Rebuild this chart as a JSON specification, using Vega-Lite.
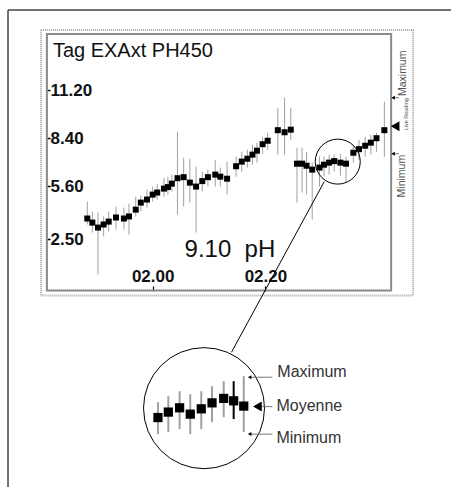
{
  "$schema": "https://vega.github.io/schema/vega-lite/v6.json",
  "width": 452,
  "height": 488,
  "autosize": {"type": "fit", "contains": "padding"},
  "padding": 0,
  "background": "white",
  "config": {"view": {"stroke": null}, "text": {"font": "Liberation Sans"}, "axis": {"labelFont": "Liberation Sans"}},
  "datasets": {
    "series": [
      {"t":108.4,"v":3.70,"lo":3.35,"hi":4.69},
      {"t":109.3,"v":3.46,"lo":2.88,"hi":4.11},
      {"t":110.3,"v":3.17,"lo":0.43,"hi":4.05},
      {"t":111.3,"v":3.35,"lo":2.65,"hi":3.82},
      {"t":112.2,"v":3.52,"lo":2.94,"hi":4.11},
      {"t":113.5,"v":3.76,"lo":3.06,"hi":4.40},
      {"t":114.9,"v":3.70,"lo":3.06,"hi":4.34},
      {"t":115.8,"v":3.82,"lo":2.76,"hi":4.57},
      {"t":117.0,"v":4.22,"lo":3.82,"hi":4.98},
      {"t":117.9,"v":4.63,"lo":4.11,"hi":5.04},
      {"t":119.0,"v":4.81,"lo":4.34,"hi":5.39},
      {"t":120.0,"v":5.10,"lo":4.69,"hi":5.57},
      {"t":120.8,"v":5.22,"lo":4.81,"hi":5.74},
      {"t":122.0,"v":5.45,"lo":4.98,"hi":6.09},
      {"t":122.7,"v":5.54,"lo":5.10,"hi":6.15},
      {"t":123.4,"v":5.74,"lo":5.28,"hi":6.27},
      {"t":124.4,"v":6.06,"lo":3.93,"hi":8.78},
      {"t":125.5,"v":6.12,"lo":4.40,"hi":7.26},
      {"t":126.6,"v":5.80,"lo":4.63,"hi":7.20},
      {"t":127.7,"v":5.57,"lo":2.88,"hi":6.74},
      {"t":128.8,"v":5.89,"lo":5.28,"hi":6.44},
      {"t":129.8,"v":6.12,"lo":5.57,"hi":6.56},
      {"t":131.1,"v":6.27,"lo":5.57,"hi":7.14},
      {"t":132.0,"v":6.15,"lo":5.57,"hi":6.68},
      {"t":133.2,"v":6.03,"lo":5.10,"hi":7.03},
      {"t":134.8,"v":6.76,"lo":6.15,"hi":7.32},
      {"t":135.8,"v":7.03,"lo":6.44,"hi":7.61},
      {"t":136.8,"v":7.20,"lo":6.68,"hi":7.73},
      {"t":137.7,"v":7.44,"lo":6.85,"hi":8.02},
      {"t":138.5,"v":7.67,"lo":6.97,"hi":8.14},
      {"t":139.5,"v":8.05,"lo":7.49,"hi":8.49},
      {"t":140.4,"v":8.25,"lo":7.73,"hi":8.72},
      {"t":142.2,"v":8.87,"lo":7.44,"hi":10.18},
      {"t":143.4,"v":8.75,"lo":7.44,"hi":10.77},
      {"t":144.5,"v":8.90,"lo":8.31,"hi":10.18},
      {"t":145.6,"v":6.91,"lo":4.63,"hi":7.85},
      {"t":146.5,"v":6.91,"lo":5.22,"hi":7.85},
      {"t":147.3,"v":6.79,"lo":5.10,"hi":7.61},
      {"t":148.3,"v":6.56,"lo":3.64,"hi":6.97},
      {"t":149.6,"v":6.68,"lo":5.57,"hi":7.32},
      {"t":150.4,"v":6.85,"lo":6.15,"hi":7.32},
      {"t":151.3,"v":6.97,"lo":6.27,"hi":7.44},
      {"t":152.2,"v":7.06,"lo":6.44,"hi":7.44},
      {"t":153.3,"v":6.97,"lo":6.21,"hi":7.49},
      {"t":154.3,"v":6.91,"lo":5.80,"hi":7.32},
      {"t":155.6,"v":7.55,"lo":6.97,"hi":8.02},
      {"t":156.6,"v":7.76,"lo":7.14,"hi":8.31},
      {"t":157.7,"v":7.96,"lo":7.32,"hi":8.49},
      {"t":158.7,"v":8.14,"lo":7.44,"hi":8.60},
      {"t":159.7,"v":8.40,"lo":7.61,"hi":8.72},
      {"t":161.1,"v":8.87,"lo":7.32,"hi":10.53}
    ],
    "inset": [
      {"i":1,"t":120.94,"v":-7.95,"lo":-8.92,"hi":-7.05},
      {"i":2,"t":122.78,"v":-7.63,"lo":-8.80,"hi":-6.70},
      {"i":3,"t":124.78,"v":-7.38,"lo":-8.63,"hi":-6.41},
      {"i":4,"t":126.67,"v":-7.75,"lo":-8.92,"hi":-6.58},
      {"i":5,"t":128.62,"v":-7.44,"lo":-8.63,"hi":-6.41},
      {"i":6,"t":130.53,"v":-7.09,"lo":-8.22,"hi":-6.12},
      {"i":7,"t":132.60,"v":-6.83,"lo":-7.93,"hi":-5.82},
      {"i":8,"t":134.37,"v":-6.97,"lo":-8.04,"hi":-5.82},
      {"i":9,"t":136.16,"v":-7.28,"lo":-8.80,"hi":-5.53}
    ]
  },
  "encoding": {
    "x": {
      "field": "t", "type": "quantitative",
      "scale": {"domain": [92.92, 172.92], "nice": false, "zero": false},
      "axis": {
        "orient": "top", "offset": -291, "values": [120, 140],
        "labelExpr": "'0' + floor(datum.value / 60) + '.' + (datum.value % 60 < 10 ? '0' : '') + (datum.value % 60)",
        "domain": false, "grid": false, "tickSize": 5, "tickColor": "black", "tickWidth": 1.2,
        "labelPadding": 1, "labelFontSize": 17, "labelFontWeight": "bold", "labelColor": "#111", "labelFlush": false, "labelOverlap": false, "title": null
      }
    },
    "y": {
      "field": "v", "type": "quantitative",
      "scale": {"domain": [-12.015, 16.49], "nice": false, "zero": false},
      "axis": {
        "orient": "right", "offset": -405, "values": [2.5, 5.6, 8.4, 11.2], "format": ".2f",
        "domain": false, "grid": false, "tickSize": 4, "tickColor": "black", "tickWidth": 1.5,
        "labelPadding": 0, "labelFontSize": 17, "labelFontWeight": "bold", "labelColor": "#111", "labelFlush": false, "labelOverlap": false, "title": null
      }
    }
  },
  "layer": [
    {
      "data": {"values": [
        {"t": 94.34, "v": 15.91, "t2": 172.92, "v2": 15.91},
        {"t": 94.34, "v": 15.91, "t2": 94.34, "v2": -12.015}
      ]},
      "mark": {"type": "rule", "color": "#444", "strokeWidth": 1.5},
      "encoding": {"x2": {"field": "t2"}, "y2": {"field": "v2"}}
    },
    {
      "data": {"values": [{"t": 100.18, "v": 14.74, "t2": 166.19, "v2": -0.80}]},
      "mark": {"type": "rect", "fill": null, "stroke": "#a8a8a8", "strokeWidth": 2, "strokeDash": [1, 1]},
      "encoding": {"x2": {"field": "t2"}, "y2": {"field": "v2"}}
    },
    {
      "data": {"values": [{"t": 101.24, "v": 14.50, "t2": 162.30, "v2": -0.51}]},
      "mark": {"type": "rect", "fill": null, "stroke": "#8a8a8a", "strokeWidth": 2},
      "encoding": {"x2": {"field": "t2"}, "y2": {"field": "v2"}}
    },
    {
      "data": {"name": "series"},
      "mark": {"type": "rule", "color": "#a0a0a0", "strokeWidth": 1},
      "encoding": {"y": {"field": "lo", "type": "quantitative"}, "y2": {"field": "hi"}}
    },
    {
      "data": {"name": "series"},
      "mark": {"type": "point", "shape": "square", "filled": true, "color": "black", "size": 36, "opacity": 1}
    },
    {
      "data": {"values": [{"t": 152.83, "v": 7.03}]},
      "mark": {"type": "point", "shape": "circle", "filled": false, "stroke": "black", "strokeWidth": 1, "size": 2025, "opacity": 1}
    },
    {
      "data": {"values": [{"t": 150.44, "v": 5.86, "t2": 133.98, "v2": -4.13}]},
      "mark": {"type": "rule", "color": "black", "strokeWidth": 1},
      "encoding": {"x2": {"field": "t2"}, "y2": {"field": "v2"}}
    },
    {
      "data": {"values": [{"t": 129.11, "v": -7.40}]},
      "mark": {"type": "point", "shape": "circle", "filled": false, "stroke": "black", "strokeWidth": 1, "size": 14641, "opacity": 1}
    },
    {
      "data": {"name": "inset"},
      "mark": {"type": "rule", "strokeWidth": 2},
      "encoding": {
        "y": {"field": "lo", "type": "quantitative"}, "y2": {"field": "hi"},
        "color": {"condition": {"test": "datum.i == 8", "value": "black"}, "value": "#a0a0a0"}
      }
    },
    {
      "data": {"name": "inset"},
      "mark": {"type": "point", "shape": "square", "filled": true, "color": "black", "size": 85, "opacity": 1}
    },
    {
      "data": {"values": [
        {"t": 137.17, "v": -5.59, "t2": 141.24, "v2": -5.59},
        {"t": 139.29, "v": -7.31, "t2": 141.24, "v2": -7.31},
        {"t": 137.17, "v": -8.92, "t2": 141.24, "v2": -8.92},
        {"t": 162.83, "v": 10.77, "t2": 163.71, "v2": 10.77},
        {"t": 162.83, "v": 7.49, "t2": 163.71, "v2": 7.49}
      ]},
      "mark": {"type": "rule", "color": "#777", "strokeWidth": 1},
      "encoding": {"x2": {"field": "t2"}, "y2": {"field": "v2"}}
    },
    {
      "data": {"values": [
        {"t": 137.2, "v": -5.59},
        {"t": 137.2, "v": -8.92},
        {"t": 162.65, "v": 10.77},
        {"t": 162.65, "v": 7.49}
      ]},
      "mark": {"type": "point", "shape": "triangle-left", "filled": true, "color": "black", "size": 16, "opacity": 1}
    },
    {
      "data": {"values": [
        {"t": 138.58, "v": -7.31},
        {"t": 163.01, "v": 9.10}
      ]},
      "mark": {"type": "point", "shape": "triangle-left", "filled": true, "color": "black", "size": 100, "opacity": 1}
    },
    {
      "data": {"values": [{"t": 102.30, "v": 13.18, "label": "Tag EXAxt PH450"}]},
      "mark": {"type": "text", "align": "left", "baseline": "alphabetic", "fontSize": 20, "color": "#111"},
      "encoding": {"text": {"field": "label"}}
    },
    {
      "data": {"values": [{"t": 125.66, "v": 1.46, "label": "9.10\u00a0\u00a0pH"}]},
      "mark": {"type": "text", "align": "left", "baseline": "alphabetic", "fontSize": 24, "color": "#111"},
      "encoding": {"text": {"field": "label"}}
    },
    {
      "data": {"values": [
        {"t": 142.12, "v": -5.31, "label": "Maximum"},
        {"t": 141.95, "v": -7.30, "label": "Moyenne"},
        {"t": 141.95, "v": -9.15, "label": "Minimum"}
      ]},
      "mark": {"type": "text", "align": "left", "baseline": "middle", "fontSize": 16, "color": "#333"},
      "encoding": {"text": {"field": "label"}}
    },
    {
      "data": {"values": [
        {"t": 164.42, "v": 12.20, "label": "Maximum"},
        {"t": 164.25, "v": 6.18, "label": "Minimum"}
      ]},
      "mark": {"type": "text", "align": "center", "baseline": "middle", "angle": 270, "fontSize": 10.5, "color": "#555"},
      "encoding": {"text": {"field": "label"}}
    },
    {
      "data": {"values": [{"t": 164.87, "v": 9.80, "label": "Live Reading"}]},
      "mark": {"type": "text", "align": "center", "baseline": "middle", "angle": 270, "fontSize": 5.5, "color": "#555"},
      "encoding": {"text": {"field": "label"}}
    }
  ]
}
